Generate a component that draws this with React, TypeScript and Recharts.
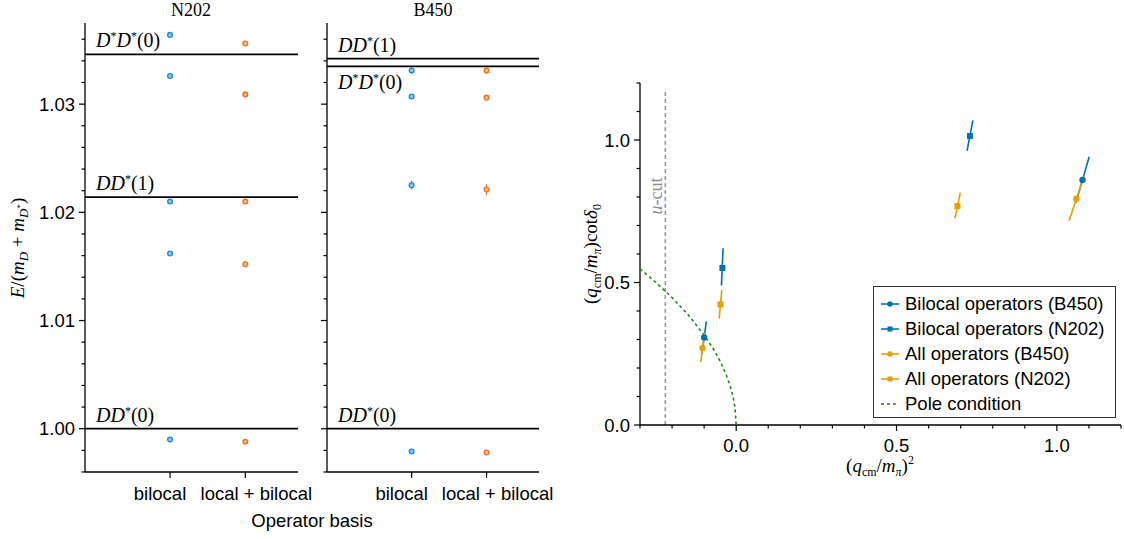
import React from 'react';
import { ScatterChart, Scatter, XAxis, YAxis, ReferenceLine, ErrorBar } from 'recharts';

const SANS = '"Liberation Sans", Arial, Helvetica, sans-serif';
const SERIF = '"Liberation Serif", "DejaVu Serif", serif';
const FS = 18.5;

// left: energy levels E/(mD + mD*) per operator basis
const basisTicks = [0, 1];
const basisLabels = ['bilocal', 'local + bilocal'];
const basisLabelShift = [-10, 11];

const n202Bilocal = [1.0364, 1.0326, 1.021, 1.0162, 0.999];
const n202BilocalErr = [0.0002, 0.0001, 0.0001, 0.0001, 0.0001];
const n202Full = [1.0356, 1.0309, 1.021, 1.0152, 0.9988];
const n202FullErr = [0.0002, 0.0002, 0.0001, 0.0001, 0.0001];

const b450Bilocal = [1.0331, 1.0307, 1.0225, 0.9979];
const b450BilocalErr = [0.0003, 0.0002, 0.0004, 0.0001];
const b450Full = [1.0331, 1.0306, 1.0221, 0.9978];
const b450FullErr = [0.0003, 0.0002, 0.0005, 0.0001];

// thresholds: name, value, label above/below the line
const n202Levels = ['D*D*(0)', 'DD*(1)', 'DD*(0)'];
const n202LevelValues = [1.0346, 1.0214, 1.0];
const n202LevelSide = ['above', 'above', 'above'];
const b450Levels = ['DD*(1)', 'D*D*(0)', 'DD*(0)'];
const b450LevelValues = [1.0342, 1.0335, 1.0];
const b450LevelSide = ['above', 'below', 'above'];

const energyTicks = [
  0.996, 0.998, 1.0, 1.002, 1.004, 1.006, 1.008, 1.01, 1.012, 1.014, 1.016, 1.018, 1.02,
  1.022, 1.024, 1.026, 1.028, 1.03, 1.032, 1.034, 1.036,
];
const energyMajor = [1.0, 1.01, 1.02, 1.03];

// right: (q/mpi)^2 vs (q/mpi) cot delta0
const b450BilocalPts = [[-0.1, 0.307], [1.08, 0.86]];
const b450BilocalLo = [[-0.107, 0.25], [1.059, 0.78]];
const b450BilocalHi = [[-0.093, 0.364], [1.101, 0.941]];

const n202BilocalPts = [[-0.043, 0.551], [0.729, 1.014]];
const n202BilocalLo = [[-0.046, 0.49], [0.72, 0.962]];
const n202BilocalHi = [[-0.041, 0.62], [0.738, 1.069]];

const b450AllPts = [[-0.105, 0.27], [1.061, 0.794]];
const b450AllLo = [[-0.111, 0.221], [1.038, 0.717]];
const b450AllHi = [[-0.098, 0.323], [1.085, 0.874]];

const n202AllPts = [[-0.049, 0.423], [0.69, 0.768]];
const n202AllLo = [[-0.053, 0.373], [0.682, 0.725]];
const n202AllHi = [[-0.045, 0.474], [0.699, 0.815]];

const poleX = [-0.3, -0.25, -0.2, -0.15, -0.1, -0.07, -0.05, -0.03, -0.02, -0.01, -0.004, 0];
const poleY = [0.548, 0.5, 0.447, 0.387, 0.316, 0.265, 0.224, 0.173, 0.141, 0.1, 0.063, 0];

const uCut = -0.221;

const qTicks = [-0.3, -0.2, -0.1, 0, 0.1, 0.2, 0.3, 0.4, 0.5, 0.6, 0.7, 0.8, 0.9, 1.0, 1.1, 1.2];
const qMajor = [0, 0.5, 1.0];
const cotTicks = [0, 0.1, 0.2, 0.3, 0.4, 0.5, 0.6, 0.7, 0.8, 0.9, 1.0, 1.1, 1.2];
const cotMajor = [0, 0.5, 1.0];

const C_BLUE = '#1f8bd0';
const C_BLUE_L = '#8cc6ee';
const C_ORANGE = '#e8741f';
const C_ORANGE_L = '#f5b98c';
const R_BLUE = '#0072b2';
const R_ORANGE = '#e69f00';
const POLE = '#1a8a1a';

type Piece = { t: string; it?: boolean; shift?: number; size?: number };

function MathText({ x, y, pieces, size = 19, anchor = 'start', rotate, fill = '#000' }: any) {
  let cur = 0;
  return (
    <text
      x={x}
      y={y}
      fontFamily={SERIF}
      fontSize={size}
      textAnchor={anchor}
      fill={fill}
      style={{ whiteSpace: 'pre' }}
      transform={rotate ? `rotate(${rotate} ${x} ${y})` : undefined}
    >
      {pieces.map((p: Piece, i: number) => {
        const s = p.shift ?? 0;
        const dy = s - cur;
        cur = s;
        return (
          <tspan key={i} dy={dy} fontStyle={p.it ? 'italic' : 'normal'} fontSize={p.size ?? size}>
            {p.t}
          </tspan>
        );
      })}
    </text>
  );
}

// "D*D*(0)" -> italic D, superscript stars
function levelPieces(name: string): Piece[] {
  const out: Piece[] = [];
  let rest = '';
  for (const ch of name) {
    if (ch === 'D') out.push({ t: 'D', it: true });
    else if (ch === '*') out.push({ t: '*', shift: -7, size: 12 });
    else rest += ch;
  }
  out.push({ t: rest });
  return out;
}

const isIn = (arr: number[], v: number) => arr.some((m) => Math.abs(m - v) < 1e-9);

function YTick({ x, y, payload, majors, labels, fmt }: any) {
  const major = isIn(majors, payload.value);
  return (
    <g>
      <line x1={x} x2={x - (major ? 6 : 3.5)} y1={y} y2={y} stroke="#000" strokeWidth={1.2} />
      {major && labels && (
        <text x={x - 10} y={y} dy="0.36em" textAnchor="end" fontFamily={SANS} fontSize={FS} fill="#000">
          {fmt(payload.value)}
        </text>
      )}
    </g>
  );
}

function XTick({ x, y, payload, majors, fmt, offset = 27, shift }: any) {
  const major = isIn(majors, payload.value);
  const dx = shift ? shift(payload.value) : 0;
  return (
    <g>
      <line x1={x} x2={x} y1={y} y2={y + (major ? 6 : 3.5)} stroke="#000" strokeWidth={1.2} />
      {major && (
        <text x={x + dx} y={y + offset} textAnchor="middle" fontFamily={SANS} fontSize={FS} fill="#000">
          {fmt(payload.value)}
        </text>
      )}
    </g>
  );
}

const dot = (stroke: string, fill: string) => (p: any) =>
  <circle cx={p.cx} cy={p.cy} r={2.4} fill={fill} stroke={stroke} strokeWidth={1.3} />;

const emptyShape = () => <g />;

function EnergyPanel({ width, axisW, bil, bilErr, full, fullErr, levels, levelValues, levelSide, labels }: any) {
  const bilData = bil.map((v: number, i: number) => ({ x: basisTicks[0], y: v, err: bilErr[i] }));
  const fullData = full.map((v: number, i: number) => ({ x: basisTicks[1], y: v, err: fullErr[i] }));
  return (
    <ScatterChart width={width} height={539} margin={{ top: 23, right: 22, bottom: 0, left: 0 }}>
      <XAxis
        type="number"
        dataKey="x"
        domain={[-1.13, 1.7]}
        ticks={basisTicks}
        interval={0}
        allowDataOverflow
        height={67}
        tickSize={0}
        tickMargin={0}
        axisLine={{ stroke: '#000', strokeWidth: 1.3 }}
        tick={(p: any) => (
          <XTick
            {...p}
            majors={basisTicks}
            fmt={(v: number) => basisLabels[v]}
            shift={(v: number) => basisLabelShift[v]}
            offset={28}
          />
        )}
      />
      <YAxis
        type="number"
        dataKey="y"
        domain={[0.996, 1.0375]}
        ticks={energyTicks}
        interval={0}
        allowDataOverflow
        width={axisW}
        tickSize={0}
        tickMargin={0}
        axisLine={{ stroke: '#000', strokeWidth: 1.3 }}
        tick={(p: any) => <YTick {...p} majors={energyMajor} labels={labels} fmt={(v: number) => v.toFixed(2)} />}
      />
      {levelValues.map((v: number, i: number) => (
        <ReferenceLine
          key={i}
          y={v}
          stroke="#000"
          strokeWidth={1.8}
          label={(lp: any) => (
            <MathText
              x={lp.viewBox.x + 11}
              y={levelSide[i] === 'above' ? lp.viewBox.y - 7 : lp.viewBox.y + 23}
              pieces={levelPieces(levels[i])}
              size={20}
            />
          )}
        />
      ))}
      <Scatter data={bilData} shape={dot(C_BLUE, C_BLUE_L)} fill={C_BLUE} isAnimationActive={false}>
        <ErrorBar dataKey="err" direction="y" width={0} stroke={C_BLUE} strokeWidth={1.2} />
      </Scatter>
      <Scatter data={fullData} shape={dot(C_ORANGE, C_ORANGE_L)} fill={C_ORANGE} isAnimationActive={false}>
        <ErrorBar dataKey="err" direction="y" width={0} stroke={C_ORANGE} strokeWidth={1.2} />
      </Scatter>
    </ScatterChart>
  );
}

const toXY = (pts: number[][]) => pts.map((p) => ({ x: p[0], y: p[1] }));

const rightSeries = [
  { name: 'Bilocal operators (B450)', pts: b450BilocalPts, lo: b450BilocalLo, hi: b450BilocalHi, color: R_BLUE, square: false },
  { name: 'Bilocal operators (N202)', pts: n202BilocalPts, lo: n202BilocalLo, hi: n202BilocalHi, color: R_BLUE, square: true },
  { name: 'All operators (B450)', pts: b450AllPts, lo: b450AllLo, hi: b450AllHi, color: R_ORANGE, square: false },
  { name: 'All operators (N202)', pts: n202AllPts, lo: n202AllLo, hi: n202AllHi, color: R_ORANGE, square: true },
];

const marker = (color: string, square: boolean) => (p: any) =>
  square ? (
    <rect x={p.cx - 3} y={p.cy - 3} width={6} height={6} fill={color} />
  ) : (
    <circle cx={p.cx} cy={p.cy} r={3.2} fill={color} />
  );

function ScatteringPanel() {
  const poleData = poleX.map((x, i) => ({ x, y: poleY[i] }));
  return (
    <ScatterChart width={564} height={539} margin={{ top: 83, right: 3, bottom: 0, left: 0 }}>
      <XAxis
        type="number"
        dataKey="x"
        domain={[-0.3, 1.2]}
        ticks={qTicks}
        interval={0}
        allowDataOverflow
        height={114}
        tickSize={0}
        tickMargin={0}
        axisLine={{ stroke: '#000', strokeWidth: 1.3 }}
        tick={(p: any) => <XTick {...p} majors={qMajor} fmt={(v: number) => v.toFixed(1)} offset={27} />}
      />
      <YAxis
        type="number"
        dataKey="y"
        domain={[0, 1.2]}
        ticks={cotTicks}
        interval={0}
        allowDataOverflow
        width={80}
        tickSize={0}
        tickMargin={0}
        axisLine={{ stroke: '#000', strokeWidth: 1.3 }}
        tick={(p: any) => <YTick {...p} majors={cotMajor} labels fmt={(v: number) => v.toFixed(1)} />}
      />
      <ReferenceLine
        segment={[{ x: uCut, y: 0 }, { x: uCut, y: 1.18 }]}
        stroke="#9a9a9a"
        strokeWidth={1.6}
        strokeDasharray="4 3"
        label={(lp: any) => (
          <MathText
            x={lp.viewBox.x - 3}
            y={196}
            anchor="middle"
            rotate={-90}
            fill="#8c8c8c"
            size={18}
            pieces={[{ t: 'u', it: true }, { t: '-cut' }]}
          />
        )}
      />
      <Scatter
        data={poleData}
        fill={POLE}
        shape={emptyShape}
        line={{ stroke: POLE, strokeWidth: 1.6, strokeDasharray: '3 3', fill: 'none' }}
        isAnimationActive={false}
      />
      {rightSeries.map((s, k) =>
        s.pts.map((_, i) => (
          <Scatter
            key={`e${k}-${i}`}
            data={toXY([s.lo[i], s.hi[i]])}
            fill={s.color}
            shape={emptyShape}
            line={{ stroke: s.color, strokeWidth: 1.6, fill: 'none' }}
            isAnimationActive={false}
          />
        ))
      )}
      {rightSeries.map((s, k) => (
        <Scatter key={`p${k}`} data={toXY(s.pts)} fill={s.color} shape={marker(s.color, s.square)} isAnimationActive={false} />
      ))}
    </ScatterChart>
  );
}

function LegendBox() {
  return (
    <div
      style={{
        position: 'absolute',
        left: 873,
        top: 286,
        width: 243,
        height: 132,
        border: '1.3px solid #333',
        background: '#fff',
        paddingTop: 4,
        boxSizing: 'border-box',
        fontFamily: SANS,
        fontSize: FS,
      }}
    >
      {rightSeries.map((s) => (
        <div key={s.name} style={{ display: 'flex', alignItems: 'center', height: 25, paddingLeft: 6 }}>
          <svg width={20} height={10} style={{ marginRight: 5 }}>
            <line x1={1} x2={19} y1={5} y2={5} stroke={s.color} strokeWidth={1.6} />
            {s.square ? <rect x={7.5} y={2.5} width={5} height={5} fill={s.color} /> : <circle cx={10} cy={5} r={2.7} fill={s.color} />}
          </svg>
          <span style={{ whiteSpace: 'nowrap', lineHeight: '25px' }}>{s.name}</span>
        </div>
      ))}
      <div style={{ display: 'flex', alignItems: 'center', height: 25, paddingLeft: 6 }}>
        <svg width={20} height={10} style={{ marginRight: 5 }}>
          <line x1={1} x2={19} y1={5} y2={5} stroke={POLE} strokeWidth={1.6} strokeDasharray="3 3" />
        </svg>
        <span style={{ whiteSpace: 'nowrap', lineHeight: '25px' }}>Pole condition</span>
      </div>
    </div>
  );
}

export default function App() {
  return (
    <div style={{ position: 'absolute', left: 0, top: 0, width: 1124, height: 539, background: '#fff', overflow: 'hidden' }}>
      <div style={{ position: 'absolute', left: 0, top: 0 }}>
        <EnergyPanel
          width={320}
          axisW={85}
          bil={n202Bilocal}
          bilErr={n202BilocalErr}
          full={n202Full}
          fullErr={n202FullErr}
          levels={n202Levels}
          levelValues={n202LevelValues}
          levelSide={n202LevelSide}
          labels
        />
      </div>
      <div style={{ position: 'absolute', left: 300, top: 0 }}>
        <EnergyPanel
          width={261}
          axisW={27}
          bil={b450Bilocal}
          bilErr={b450BilocalErr}
          full={b450Full}
          fullErr={b450FullErr}
          levels={b450Levels}
          levelValues={b450LevelValues}
          levelSide={b450LevelSide}
          labels={false}
        />
      </div>
      <div style={{ position: 'absolute', left: 560, top: 0 }}>
        <ScatteringPanel />
      </div>
      <svg width={1124} height={539} style={{ position: 'absolute', left: 0, top: 0, pointerEvents: 'none' }}>
        <text x={191} y={16} textAnchor="middle" fontFamily={SERIF} fontSize={18}>N202</text>
        <text x={433} y={16} textAnchor="middle" fontFamily={SERIF} fontSize={18}>B450</text>
        <text x={312} y={527} textAnchor="middle" fontFamily={SANS} fontSize={FS}>Operator basis</text>
        <MathText
          x={24}
          y={248}
          anchor="middle"
          rotate={-90}
          size={19}
          pieces={[
            { t: 'E', it: true },
            { t: '/(' },
            { t: 'm', it: true },
            { t: 'D', it: true, shift: 4, size: 13 },
            { t: ' + ' },
            { t: 'm', it: true },
            { t: 'D', it: true, shift: 4, size: 13 },
            { t: '*', shift: -1, size: 9 },
            { t: ')' },
          ]}
        />
        <MathText
          x={597}
          y={254}
          anchor="middle"
          rotate={-90}
          size={19}
          pieces={[
            { t: '(' },
            { t: 'q', it: true },
            { t: 'cm', shift: 4, size: 12 },
            { t: '/' },
            { t: 'm', it: true },
            { t: 'π', it: true, shift: 4, size: 12 },
            { t: ')cot' },
            { t: 'δ', it: true },
            { t: '0', shift: 4, size: 12 },
          ]}
        />
        <MathText
          x={880}
          y={472}
          anchor="middle"
          size={19}
          pieces={[
            { t: '(' },
            { t: 'q', it: true },
            { t: 'cm', shift: 4, size: 12 },
            { t: '/' },
            { t: 'm', it: true },
            { t: 'π', it: true, shift: 4, size: 12 },
            { t: ')' },
            { t: '2', shift: -8, size: 12 },
          ]}
        />
      </svg>
      <LegendBox />
    </div>
  );
}
